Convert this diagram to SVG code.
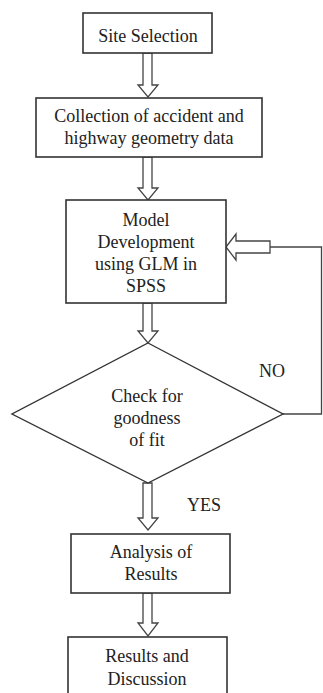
<svg xmlns="http://www.w3.org/2000/svg" width="323" height="693" viewBox="0 0 323 693">
<style>
.box{fill:#fff;stroke:#333;stroke-width:1.6}
.arr{fill:#fff;stroke:#444;stroke-width:1.3;stroke-linejoin:miter}
.ln{fill:none;stroke:#444;stroke-width:1.3}
text{font-family:"Liberation Serif","Times New Roman",serif;font-size:18px;fill:#222;text-anchor:middle}
</style>
<rect width="323" height="693" fill="#fff"/>
<g id="connectors">
<polygon class="arr" points="143,53 143,85 138,85 148,97 158,85 152,85 152,53"/>
<polygon class="arr" points="143,157 143,188 138,188 148,200 158,188 152,188 152,157"/>
<polygon class="arr" points="143,303 143,331 138,331 148,343 158,331 152,331 152,303"/>
<polygon class="arr" points="143,483 143,518 138,518 148,530 158,518 152,518 152,483"/>
<polygon class="arr" points="143,593 143,623 138,623 148,636 158,623 152,623 152,593"/>
<polyline class="ln" points="283,414 321.5,414 321.5,247 270,247"/>
<polygon class="arr" points="226,247 236,234 236,241 270,241 270,253 236,253 236,260"/>
</g>
<g id="site-selection">
<rect class="box" x="83" y="13" width="129" height="40"/>
<text x="148" y="41.5">Site Selection</text>
</g>
<g id="data-collection">
<rect class="box" x="36" y="98" width="226" height="59"/>
<text x="149" y="122">Collection of accident and</text>
<text x="149" y="143.5">highway geometry data</text>
</g>
<g id="model-development">
<rect class="box" x="66" y="200" width="160" height="103"/>
<text x="146" y="226">Model</text>
<text x="146" y="248">Development</text>
<text x="146" y="270">using GLM in</text>
<text x="146" y="292">SPSS</text>
</g>
<g id="goodness-check">
<polygon class="box" points="148,343 283,414 148,483 12,414" style="stroke-width:1.4"/>
<text x="147" y="402">Check for</text>
<text x="147" y="424">goodness</text>
<text x="147" y="446">of fit</text>
</g>
<g id="label-no"><text x="272" y="377">NO</text></g>
<g id="label-yes"><text x="204" y="511">YES</text></g>
<g id="analysis">
<rect class="box" x="71" y="534" width="159" height="59"/>
<text x="151" y="558">Analysis of</text>
<text x="151" y="580">Results</text>
</g>
<g id="results-discussion">
<rect class="box" x="68" y="637" width="159" height="70"/>
<text x="147" y="662">Results and</text>
<text x="147" y="685">Discussion</text>
</g>
</svg>
